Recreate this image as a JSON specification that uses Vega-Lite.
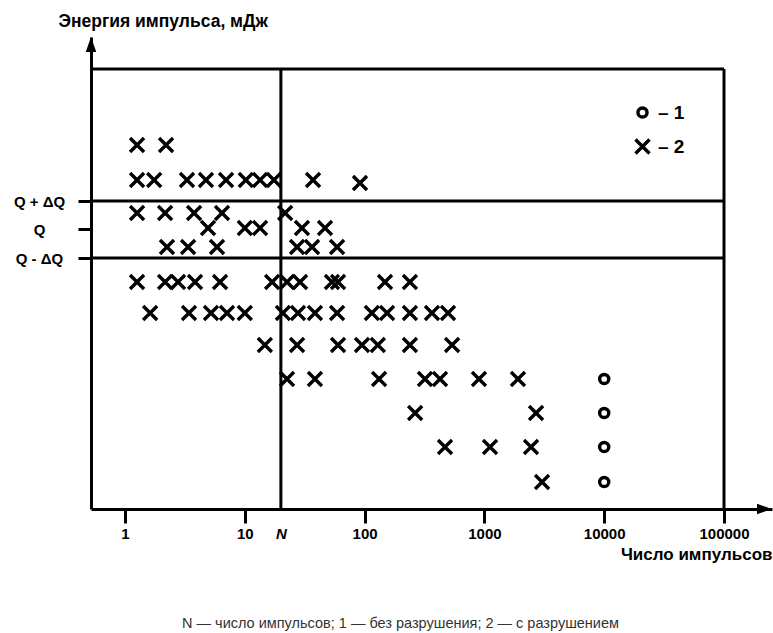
{
  "$schema": "https://vega.github.io/schema/vega-lite/v6.json",
  "width": 681,
  "height": 472,
  "autosize": "none",
  "padding": {"left": 91, "top": 37, "right": 1, "bottom": 124},
  "background": "white",
  "config": {"view": {"stroke": null}, "font": "Liberation Sans"},
  "title": {
    "text": "N — число импульсов; 1 — без разрушения; 2 — с разрушением",
    "orient": "bottom",
    "anchor": "middle",
    "fontSize": 14.5,
    "fontWeight": "normal",
    "color": "#333333",
    "offset": 55,
    "dx": -31
  },
  "encoding": {
    "x": {
      "field": "n",
      "type": "quantitative",
      "scale": {"type": "log", "domain": [0.52, 251600], "nice": false},
      "axis": {
        "values": [1, 10, 20, 100, 1000, 10000, 100000],
        "labelExpr": "datum.value == 20 ? 'N' : format(datum.value, 'd')",
        "title": "Число импульсов",
        "titleAlign": "right",
        "titleX": 681,
        "titleY": 45,
        "titleBaseline": "middle",
        "titleFontSize": 17,
        "titleFontWeight": "bold",
        "titleColor": "black",
        "labelFontSize": 15,
        "labelFontWeight": "bold",
        "labelColor": "black",
        "labelFontStyle": {"condition": {"test": "datum.value == 20", "value": "italic"}, "value": "normal"},
        "tickOpacity": {"condition": {"test": "datum.value == 20", "value": 0}, "value": 1},
        "tickSize": 14,
        "tickWidth": 3,
        "tickColor": "black",
        "domainWidth": 3,
        "domainColor": "black",
        "labelPadding": 3,
        "labelFlush": false,
        "labelOverlap": false,
        "grid": false
      }
    },
    "y": {
      "field": "e",
      "type": "quantitative",
      "scale": {"domain": [0, 472], "nice": false, "zero": false},
      "axis": {
        "values": [251, 280, 308],
        "labelExpr": "datum.value == 308 ? 'Q + ΔQ' : datum.value == 280 ? 'Q' : 'Q - ΔQ'",
        "labelAlign": "center",
        "labelPadding": 39,
        "labelFontSize": 15,
        "labelFontWeight": "bold",
        "labelColor": "black",
        "tickSize": 13,
        "tickWidth": 3,
        "tickColor": "black",
        "domainWidth": 3,
        "domainColor": "black",
        "title": "Энергия импульса, мДж",
        "titleAngle": 0,
        "titleAlign": "left",
        "titleBaseline": "middle",
        "titleX": -33,
        "titleY": -16,
        "titleFontSize": 17.5,
        "titleFontWeight": "bold",
        "titleColor": "black",
        "grid": false
      }
    }
  },
  "layer": [
    {
      "data": {"values": [
        {"n": 0.52, "n2": 100000, "e": 440},
        {"n": 0.52, "n2": 100000, "e": 308},
        {"n": 0.52, "n2": 100000, "e": 251}
      ]},
      "mark": {"type": "rule", "strokeWidth": 3, "color": "black"},
      "encoding": {"x2": {"field": "n2"}}
    },
    {
      "data": {"values": [
        {"n": 100000, "e": 0, "e2": 440},
        {"n": 20, "e": 0, "e2": 440}
      ]},
      "mark": {"type": "rule", "strokeWidth": 3, "color": "black"},
      "encoding": {"y2": {"field": "e2"}}
    },
    {
      "data": {"values": [{"n": 0.52, "e": 464.5}]},
      "mark": {"type": "point", "shape": "M0,-1L0.7,1L-0.7,1Z", "filled": true, "color": "black", "size": 225, "opacity": 1}
    },
    {
      "data": {"values": [{"n": 217800, "e": 0}]},
      "mark": {"type": "point", "shape": "M1,0L-1,-0.7L-1,0.7Z", "filled": true, "color": "black", "size": 225, "opacity": 1}
    },
    {
      "data": {"values": [
        {"n": 1.26, "e": 364, "t": "2"}, {"n": 2.2, "e": 364, "t": "2"},
        {"n": 1.26, "e": 329, "t": "2"}, {"n": 1.75, "e": 329, "t": "2"}, {"n": 3.29, "e": 329, "t": "2"}, {"n": 4.74, "e": 329, "t": "2"}, {"n": 6.97, "e": 329, "t": "2"}, {"n": 10.2, "e": 329, "t": "2"}, {"n": 13.4, "e": 329, "t": "2"}, {"n": 17.5, "e": 329, "t": "2"}, {"n": 37.1, "e": 329, "t": "2"}, {"n": 91.5, "e": 326, "t": "2"},
        {"n": 1.26, "e": 296, "t": "2"}, {"n": 2.16, "e": 296, "t": "2"}, {"n": 3.77, "e": 296, "t": "2"}, {"n": 6.45, "e": 296, "t": "2"}, {"n": 21.7, "e": 296, "t": "2"},
        {"n": 4.93, "e": 281, "t": "2"}, {"n": 10.0, "e": 281, "t": "2"}, {"n": 13.4, "e": 281, "t": "2"}, {"n": 30.0, "e": 281, "t": "2"}, {"n": 46.7, "e": 281, "t": "2"},
        {"n": 2.24, "e": 262, "t": "2"}, {"n": 3.36, "e": 262, "t": "2"}, {"n": 5.86, "e": 262, "t": "2"}, {"n": 27.3, "e": 262, "t": "2"}, {"n": 36.4, "e": 262, "t": "2"}, {"n": 58.9, "e": 262, "t": "2"},
        {"n": 1.26, "e": 227, "t": "2"}, {"n": 2.16, "e": 227, "t": "2"}, {"n": 2.77, "e": 227, "t": "2"}, {"n": 3.84, "e": 227, "t": "2"}, {"n": 6.21, "e": 227, "t": "2"}, {"n": 16.9, "e": 227, "t": "2"}, {"n": 22.5, "e": 227, "t": "2"}, {"n": 28.9, "e": 227, "t": "2"}, {"n": 53.4, "e": 227, "t": "2"}, {"n": 60.0, "e": 227, "t": "2"}, {"n": 148, "e": 227, "t": "2"}, {"n": 239, "e": 227, "t": "2"},
        {"n": 1.62, "e": 196, "t": "2"}, {"n": 3.42, "e": 196, "t": "2"}, {"n": 5.22, "e": 196, "t": "2"}, {"n": 7.1, "e": 196, "t": "2"}, {"n": 10.0, "e": 196, "t": "2"}, {"n": 20.8, "e": 196, "t": "2"}, {"n": 27.8, "e": 196, "t": "2"}, {"n": 38.5, "e": 196, "t": "2"}, {"n": 58.9, "e": 196, "t": "2"}, {"n": 115, "e": 196, "t": "2"}, {"n": 154, "e": 196, "t": "2"}, {"n": 239, "e": 196, "t": "2"}, {"n": 365, "e": 196, "t": "2"}, {"n": 497, "e": 196, "t": "2"},
        {"n": 14.7, "e": 164, "t": "2"}, {"n": 27.3, "e": 164, "t": "2"}, {"n": 60.0, "e": 164, "t": "2"}, {"n": 95.1, "e": 164, "t": "2"}, {"n": 129, "e": 164, "t": "2"}, {"n": 239, "e": 164, "t": "2"}, {"n": 537, "e": 164, "t": "2"},
        {"n": 22.5, "e": 130, "t": "2"}, {"n": 38.5, "e": 130, "t": "2"}, {"n": 132, "e": 130, "t": "2"}, {"n": 319, "e": 130, "t": "2"}, {"n": 426, "e": 130, "t": "2"}, {"n": 901, "e": 130, "t": "2"}, {"n": 1906, "e": 130, "t": "2"}, {"n": 10000, "e": 130, "t": "1"},
        {"n": 264, "e": 96, "t": "2"}, {"n": 2698, "e": 96, "t": "2"}, {"n": 10000, "e": 96, "t": "1"},
        {"n": 469, "e": 62, "t": "2"}, {"n": 1114, "e": 62, "t": "2"}, {"n": 2449, "e": 62, "t": "2"}, {"n": 10000, "e": 62, "t": "1"},
        {"n": 3027, "e": 27, "t": "2"}, {"n": 10000, "e": 27, "t": "1"}
      ]},
      "mark": {"type": "point", "filled": false, "strokeWidth": 3.4, "color": "black", "opacity": 1, "size": 196},
      "encoding": {
        "shape": {
          "field": "t",
          "type": "nominal",
          "scale": {"domain": ["1", "2"], "range": ["M0.65,0A0.65,0.65,0,1,1,-0.65,0A0.65,0.65,0,1,1,0.65,0Z", "M-1,-1L1,1M1,-1L-1,1"]},
          "legend": {
            "orient": "none",
            "legendX": 542,
            "legendY": 66,
            "title": null,
            "labelExpr": "'– ' + datum.label",
            "labelFontSize": 19,
            "labelFontWeight": "bold",
            "labelColor": "black",
            "symbolStrokeColor": "black",
            "symbolFillColor": "transparent",
            "symbolStrokeWidth": 3.4,
            "symbolSize": 196,
            "rowPadding": 8,
            "padding": 0,
            "labelOffset": 6,
            "symbolOffset": 0
          }
        }
      }
    }
  ]
}
